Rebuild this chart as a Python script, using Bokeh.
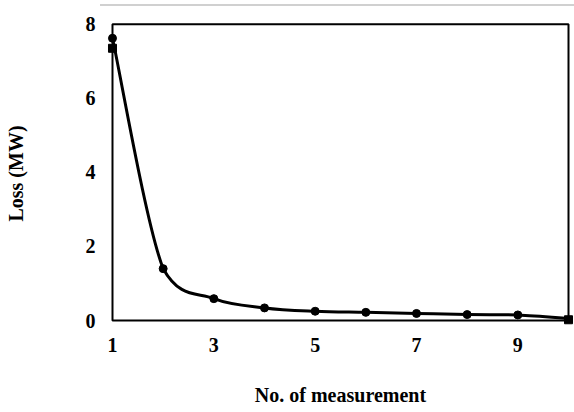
from bokeh.plotting import figure
from bokeh.models import Range1d, FixedTicker, BoxAnnotation, Div
from bokeh.layouts import column
from bokeh.embed import file_html
from bokeh.resources import INLINE

# ---- data ----
measurement = [1, 2, 3, 4, 5, 6, 7, 8, 9, 10]
loss_mw = [7.62, 1.40, 0.59, 0.34, 0.25, 0.22, 0.19, 0.16, 0.15, 0.05]
end_x = [1, 10]
end_y = [7.35, 0.02]
x_ticks = [1, 3, 5, 7, 9]
y_ticks = [0, 2, 4, 6, 8]
X_MIN, X_MAX = 1, 10
Y_MIN, Y_MAX = 0, 8

FONT = "Liberation Serif"

p = figure(frame_width=468, frame_height=306,
           min_border_left=106, min_border_right=0,
           min_border_top=14, min_border_bottom=86,
           x_range=Range1d(0.8816, 10.1184), y_range=Range1d(-0.162, 8.1),
           output_backend="svg", toolbar_location=None,
           background_fill_color="white", border_fill_color="white")
p.outline_line_color = None
p.xgrid.visible = False
p.ygrid.visible = False

# plot box at the axis limits
p.add_layout(BoxAnnotation(left=X_MIN, right=X_MAX, bottom=Y_MIN, top=Y_MAX,
                           fill_color=None, fill_alpha=0,
                           line_color="black", line_alpha=1.0, line_width=2))

# smoothed curve: Catmull-Rom style Bezier segments, control points kept
# within each segment's value range so the curve does not overshoot
n = len(measurement)
x0, y0, x1, y1, cx0, cy0, cx1, cy1 = [], [], [], [], [], [], [], []
for i in range(n - 1):
    pm = max(i - 1, 0)
    pn = min(i + 2, n - 1)
    ya, yb = loss_mw[i], loss_mw[i + 1]
    lo, hi = min(ya, yb), max(ya, yb)
    x0.append(measurement[i]); y0.append(ya)
    x1.append(measurement[i + 1]); y1.append(yb)
    cx0.append(measurement[i] + (measurement[i + 1] - measurement[pm]) / 6)
    cy0.append(min(max(ya + (yb - loss_mw[pm]) / 6, lo), hi))
    cx1.append(measurement[i + 1] - (measurement[pn] - measurement[i]) / 6)
    cy1.append(min(max(yb - (loss_mw[pn] - ya) / 6, lo), hi))
p.bezier(x0=x0, y0=y0, x1=x1, y1=y1, cx0=cx0, cy0=cy0, cx1=cx1, cy1=cy1,
         line_color="black", line_width=3)

p.scatter(measurement[:-1], loss_mw[:-1], marker="circle", size=8,
          fill_color="black", line_color="black")
p.scatter(end_x, end_y, marker="square", size=8,
          fill_color="black", line_color="black")

# axes
for ax in (p.xaxis[0], p.yaxis[0]):
    ax.axis_line_color = None
    ax.major_tick_line_color = None
    ax.minor_tick_line_color = None
    ax.major_label_text_font = FONT
    ax.major_label_text_font_style = "bold"
    ax.major_label_text_font_size = "20px"
    ax.major_label_text_color = "black"
    ax.axis_label_text_font = FONT
    ax.axis_label_text_font_style = "bold"
    ax.axis_label_text_font_size = "20px"
    ax.axis_label_text_color = "black"

p.xaxis.ticker = FixedTicker(ticks=x_ticks)
p.yaxis.ticker = FixedTicker(ticks=y_ticks)
p.xaxis.axis_label = "No. of measurement"
p.yaxis.axis_label = "Loss (MW)"
p.xaxis.major_label_standoff = 5
p.xaxis.axis_label_standoff = 29
p.yaxis.major_label_standoff = 5
p.yaxis.axis_label_standoff = 56

top_rule = Div(text="", width=474, height=2, margin=(4, 0, 0, 100),
               styles={"background-color": "#d0d0d0"})

layout = column(top_rule, p, spacing=0, margin=(0, 0, 0, 0))
open("out.html", "w").write(file_html(layout, INLINE))
